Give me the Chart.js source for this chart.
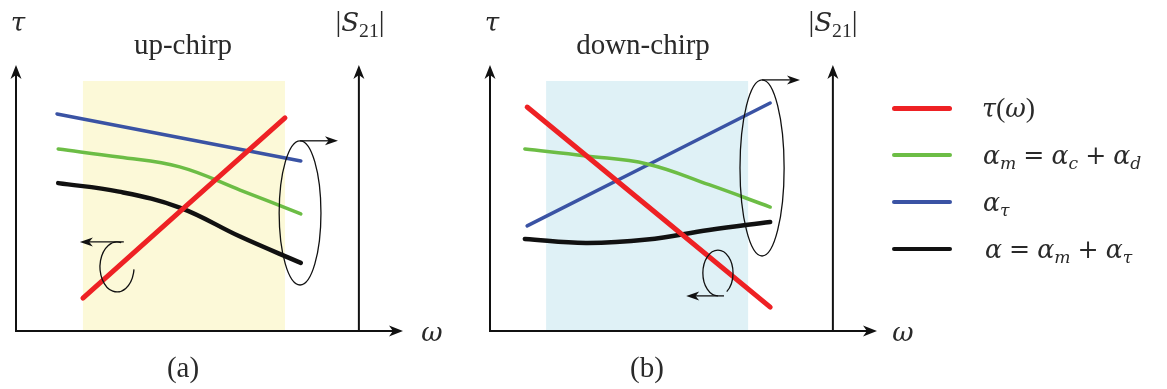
<!DOCTYPE html>
<html>
<head>
<meta charset="utf-8">
<script src="https://cdn.jsdelivr.net/npm/chart.js@4"></script>
<style>
  body { margin: 0; background: #fff; }
  #wrap { position: relative; width: 1167px; height: 389px; overflow: hidden;
          font-family: "Liberation Serif", serif; color: #2a2a2a; }
  canvas { position: absolute; top: 0; }
  .lbl { position: absolute; transform: translate(-50%, -50%); white-space: nowrap; font-size: 29px; }
  .m { font-family: "DejaVu Serif", serif; font-style: italic; font-size: 90%; }
  .m .m { font-size: 100%; }
  .sub { font-size: 68%; position: relative; top: 0.3em; }
  .op { font-family: "DejaVu Serif", serif; margin: 0 0.28em; font-size: 90%; }
  .swatch { position: absolute; left: 892px; width: 60px; border-radius: 3px; }
  .ltxt { position: absolute; transform: translateY(-50%); white-space: nowrap; font-size: 28px; }
</style>
</head>
<body>
<div id="wrap">
  <canvas id="chartA" width="470" height="389" style="left:0"></canvas>
  <canvas id="chartB" width="470" height="389" style="left:474px"></canvas>

  <div class="lbl" style="left:18px;top:21px"><span class="m">τ</span></div>
  <div class="lbl" style="left:360px;top:21px">|<span class="m">S</span><span class="sub">21</span>|</div>
  <div class="lbl" style="left:183px;top:44px">up-chirp</div>
  <div class="lbl" style="left:432px;top:331px"><span class="m">ω</span></div>
  <div class="lbl" style="left:183px;top:367px">(a)</div>

  <div class="lbl" style="left:492px;top:21px"><span class="m">τ</span></div>
  <div class="lbl" style="left:833px;top:21px">|<span class="m">S</span><span class="sub">21</span>|</div>
  <div class="lbl" style="left:643px;top:44px">down-chirp</div>
  <div class="lbl" style="left:903px;top:331px"><span class="m">ω</span></div>
  <div class="lbl" style="left:647px;top:367px">(b)</div>

  <div id="legend"></div>
</div>

<script>
// series names / colours (legend order)
const seriesLabels = [
  '<span class="m">τ</span>(<span class="m">ω</span>)',
  '<span class="m">α<span class="sub">m</span></span><span class="op">=</span><span class="m">α<span class="sub">c</span></span><span class="op">+</span><span class="m">α<span class="sub">d</span></span>',
  '<span class="m">α<span class="sub">τ</span></span>',
  '<span class="m">α</span><span class="op">=</span><span class="m">α<span class="sub">m</span></span><span class="op">+</span><span class="m">α<span class="sub">τ</span></span>'
];
const seriesColors = ['#ee2124', '#6cbd45', '#3a53a4', '#111111'];
const seriesWidths = [5, 3.5, 3.5, 4.5];

// (a) up-chirp, schematic units (omega 0..10, tau 0..10)
const upTauX = [1.73, 6.95];
const upTauY = [1.24, 8.01];
const upAlphaMX = [1.09, 2.66, 4.23, 5.79, 7.36];
const upAlphaMY = [6.84, 6.54, 6.17, 5.30, 4.40];
const upAlphaTauX = [1.06, 7.36];
const upAlphaTauY = [8.16, 6.39];
const upAlphaX = [1.09, 2.66, 4.23, 5.79, 7.36];
const upAlphaY = [5.56, 5.24, 4.64, 3.55, 2.56];

// (b) down-chirp
const downTauX = [0.96, 7.24];
const downTauY = [8.42, 0.90];
const downAlphaMX = [0.90, 2.48, 4.06, 5.66, 7.24];
const downAlphaMY = [6.84, 6.58, 6.28, 5.50, 4.66];
const downAlphaTauX = [0.96, 7.24];
const downAlphaTauY = [3.95, 8.57];
const downAlphaX = [0.90, 2.48, 4.06, 5.66, 7.24];
const downAlphaY = [3.46, 3.31, 3.44, 3.80, 4.10];

// band edges (omega) and S21 axis position
const upBand = [1.73, 6.95];
const downBand = [1.45, 6.67];
const s21Axis = 8.86;

function pts(xs, ys) {
  return xs.map((x, i) => ({ x: x, y: ys[i] }));
}

function makeDatasets(series) {
  return series.map((s, i) => ({
    data: pts(s[0], s[1]),
    borderColor: seriesColors[i],
    borderWidth: seriesWidths[i],
    borderCapStyle: 'round',
    borderJoinStyle: 'round',
    pointRadius: 0,
    fill: false,
    tension: 0.4,
    order: i === 0 ? 0 : i + 1   // red on top
  }));
}

// arrow head pointing in direction (dx,dy)
function arrowHead(ctx, x, y, dx, dy, len, half) {
  const bx = x - dx * len, by = y - dy * len;
  const nx = -dy, ny = dx;
  ctx.beginPath();
  ctx.moveTo(x, y);
  ctx.lineTo(bx + nx * half, by + ny * half);
  ctx.lineTo(x - dx * len * 0.72, y - dy * len * 0.72);
  ctx.lineTo(bx - nx * half, by - ny * half);
  ctx.closePath();
  ctx.fill();
}

const schematic = {
  id: 'schematic',
  beforeDatasetsDraw(chart, args, opts) {
    const ctx = chart.ctx, xs = chart.scales.x, ys = chart.scales.y;
    const a = chart.chartArea;
    ctx.save();
    // shaded band
    ctx.fillStyle = opts.band;
    const x0 = xs.getPixelForValue(opts.range[0]), x1 = xs.getPixelForValue(opts.range[1]);
    const yt = ys.getPixelForValue(9.4), yb = ys.getPixelForValue(0);
    ctx.fillRect(x0, yt, x1 - x0, yb - yt);
    // axes
    ctx.strokeStyle = '#111';
    ctx.fillStyle = '#111';
    ctx.lineWidth = 2;
    const xr = xs.getPixelForValue(s21Axis);
    ctx.beginPath();
    ctx.moveTo(a.left, a.top + 8); ctx.lineTo(a.left, a.bottom);
    ctx.lineTo(a.right - 8, a.bottom);
    ctx.moveTo(xr, a.bottom); ctx.lineTo(xr, a.top + 8);
    ctx.stroke();
    arrowHead(ctx, a.left, a.top, 0, -1, 14, 5.5);
    arrowHead(ctx, xr, a.top, 0, -1, 14, 5.5);
    arrowHead(ctx, a.right, a.bottom, 1, 0, 14, 5.5);
    ctx.restore();
  },
  afterDatasetsDraw(chart, args, opts) {
    const ctx = chart.ctx, xs = chart.scales.x, ys = chart.scales.y;
    ctx.save();
    ctx.strokeStyle = '#111';
    ctx.fillStyle = '#111';
    ctx.lineWidth = 1.3;
    const px = v => xs.getPixelForValue(v), py = v => ys.getPixelForValue(v);
    // big ellipse around the alpha curves
    const E = opts.big;
    const ecx = px(E.cx), ecy = py(E.cy);
    const erx = px(E.cx + E.rx) - ecx, ery = ecy - py(E.cy + E.ry);
    ctx.beginPath();
    ctx.ellipse(ecx, ecy, erx, ery, 0, 0, Math.PI * 2);
    ctx.stroke();
    ctx.beginPath();
    ctx.moveTo(ecx, ecy - ery); ctx.lineTo(px(E.to) - 6, ecy - ery);
    ctx.stroke();
    arrowHead(ctx, px(E.to), ecy - ery, 1, 0, 13, 4.5);
    // small loop on the tau line
    const L = opts.small;
    const lcx = px(L.cx), lcy = py(L.cy);
    const lrx = px(L.cx + L.rx) - lcx, lry = lcy - py(L.cy + L.ry);
    ctx.beginPath();
    let ay;
    if (L.top) {
      ctx.ellipse(lcx, lcy, lrx, lry, 0, -Math.PI / 2 + 0.25, -Math.PI * 2 + 0.1, true);
      ay = lcy - lry;
    } else {
      ctx.ellipse(lcx, lcy, lrx, lry, 0, Math.PI / 2, Math.PI * 2 + 0.95, false);
      ay = lcy + lry;
    }
    ctx.stroke();
    ctx.beginPath();
    ctx.moveTo(lcx + lrx * 0.4, ay); ctx.lineTo(px(L.to) + 6, ay);
    ctx.stroke();
    arrowHead(ctx, px(L.to), ay, -1, 0, 13, 4.5);
    ctx.restore();
  }
};

function makeChart(id, series, band, range, big, small) {
  return new Chart(document.getElementById(id), {
    type: 'line',
    data: { datasets: makeDatasets(series) },
    options: {
      responsive: false,
      animation: false,
      events: [],
      layout: { padding: { left: 16, right: 67, top: 65, bottom: 58 } },
      scales: {
        x: { type: 'linear', min: 0, max: 10, display: false },
        y: { type: 'linear', min: 0, max: 10, display: false }
      },
      plugins: {
        legend: { display: false },
        tooltip: { enabled: false },
        schematic: { band: band, range: range, big: big, small: small }
      }
    },
    plugins: [schematic]
  });
}

makeChart('chartA',
  [[upTauX, upTauY], [upAlphaMX, upAlphaMY], [upAlphaTauX, upAlphaTauY], [upAlphaX, upAlphaY]],
  '#fcf9d8', upBand,
  { cx: 7.34, cy: 4.44, rx: 0.54, ry: 2.71, to: 8.32 },
  { cx: 2.61, cy: 2.41, rx: 0.44, ry: 0.94, to: 1.65, top: true });

makeChart('chartB',
  [[downTauX, downTauY], [downAlphaMX, downAlphaMY], [downAlphaTauX, downAlphaTauY], [downAlphaX, downAlphaY]],
  '#dff1f6', downBand,
  { cx: 7.03, cy: 6.13, rx: 0.57, ry: 3.31, to: 8.01 },
  { cx: 5.89, cy: 2.18, rx: 0.39, ry: 0.86, to: 5.07, top: false });

// legend
const legendY = [108, 155, 202, 249];
const legendTextX = [982, 983, 983, 985];
const legend = document.getElementById('legend');
seriesLabels.forEach((lab, i) => {
  const sw = document.createElement('div');
  sw.className = 'swatch';
  sw.style.background = seriesColors[i];
  sw.style.height = seriesWidths[i] + 'px';
  sw.style.top = (legendY[i] - seriesWidths[i] / 2) + 'px';
  legend.appendChild(sw);
  const t = document.createElement('div');
  t.className = 'ltxt';
  t.style.left = legendTextX[i] + 'px';
  t.style.top = legendY[i] + 'px';
  t.innerHTML = lab;
  legend.appendChild(t);
});
</script>
</body>
</html>
